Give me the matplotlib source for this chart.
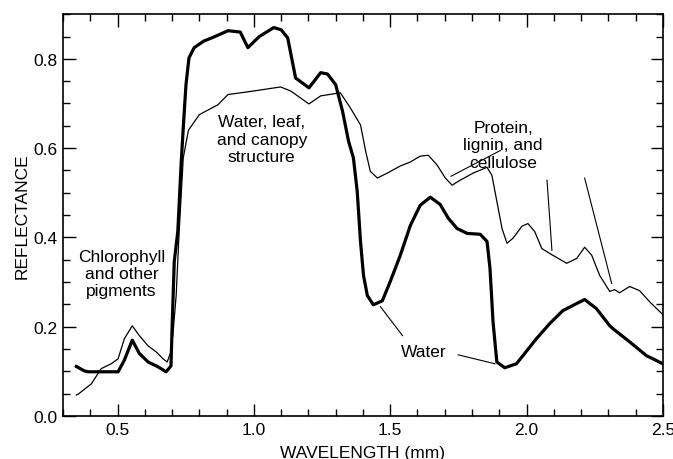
import matplotlib
matplotlib.use('Agg')
import matplotlib.pyplot as plt
from matplotlib.ticker import MultipleLocator

plt.rcParams['font.family'] = ['Liberation Sans', 'DejaVu Sans']

# thick curve
wl_thick = [0.349, 0.378, 0.393, 0.44, 0.502, 0.525, 0.554, 0.58, 0.612, 0.649, 0.678,
            0.696, 0.70, 0.708, 0.721, 0.733, 0.741, 0.751, 0.762, 0.781, 0.817, 0.85,
            0.905, 0.95, 0.978, 1.02, 1.073, 1.10, 1.124, 1.153, 1.202, 1.245, 1.27,
            1.30, 1.325, 1.347, 1.365, 1.379, 1.391, 1.402, 1.416, 1.438, 1.471, 1.50,
            1.537, 1.574, 1.61, 1.647, 1.683, 1.713, 1.745, 1.782, 1.83, 1.855, 1.866,
            1.877, 1.891, 1.92, 1.963, 2.036, 2.085, 2.133, 2.213, 2.257, 2.305, 2.316,
            2.378, 2.44, 2.5]
refl_thick = [0.111, 0.101, 0.099, 0.099, 0.099, 0.125, 0.170, 0.140, 0.121, 0.110, 0.099,
              0.112, 0.196, 0.346, 0.413, 0.562, 0.645, 0.742, 0.802, 0.825, 0.840, 0.848,
              0.863, 0.860, 0.825, 0.850, 0.870, 0.865, 0.847, 0.757, 0.735, 0.769, 0.766,
              0.742, 0.683, 0.616, 0.578, 0.503, 0.391, 0.315, 0.270, 0.249, 0.258, 0.301,
              0.360, 0.427, 0.472, 0.490, 0.474, 0.443, 0.420, 0.409, 0.407, 0.391, 0.330,
              0.211, 0.121, 0.108, 0.117, 0.173, 0.207, 0.236, 0.261, 0.240, 0.202, 0.196,
              0.166, 0.135, 0.117]

# thin curve
wl_thin = [0.349, 0.356, 0.404, 0.44, 0.477, 0.502, 0.525, 0.554, 0.58, 0.612, 0.641,
           0.667, 0.682, 0.696, 0.704, 0.715, 0.726, 0.741, 0.76, 0.80, 0.868, 0.905,
           1.0, 1.098, 1.135, 1.202, 1.245, 1.317, 1.354, 1.391, 1.41, 1.427, 1.453,
           1.489, 1.537, 1.574, 1.61, 1.64, 1.672, 1.702, 1.727, 1.756, 1.804, 1.855,
           1.873, 1.891, 1.91, 1.928, 1.95, 1.983, 2.005, 2.03, 2.056, 2.085, 2.147,
           2.184, 2.213, 2.239, 2.268, 2.305, 2.323, 2.341, 2.378, 2.414, 2.451, 2.5]
refl_thin = [0.047, 0.049, 0.072, 0.106, 0.117, 0.128, 0.173, 0.202, 0.180, 0.157, 0.144,
             0.128, 0.121, 0.144, 0.189, 0.270, 0.413, 0.578, 0.640, 0.675, 0.697, 0.720,
             0.728, 0.737, 0.728, 0.699, 0.717, 0.724, 0.690, 0.652, 0.593, 0.548, 0.533,
             0.544, 0.560, 0.569, 0.582, 0.584, 0.562, 0.533, 0.517, 0.528, 0.544, 0.557,
             0.539, 0.481, 0.420, 0.387, 0.398, 0.425, 0.431, 0.413, 0.375, 0.364, 0.342,
             0.353, 0.378, 0.360, 0.315, 0.279, 0.283, 0.276, 0.290, 0.281, 0.256, 0.227]

fig = plt.figure(figsize=(6.73, 4.60), dpi=100)
ax = fig.add_axes([0.0936, 0.0935, 0.8914, 0.8735])

ax.plot(wl_thin, refl_thin, color='black', lw=0.9, solid_joinstyle='round')
ax.plot(wl_thick, refl_thick, color='black', lw=2.3, solid_joinstyle='round')

ax.set_xlim(0.3, 2.5)
ax.set_ylim(0.0, 0.9)
ax.xaxis.set_major_locator(MultipleLocator(0.5))
ax.xaxis.set_minor_locator(MultipleLocator(0.1))
ax.yaxis.set_major_locator(MultipleLocator(0.2))
ax.yaxis.set_minor_locator(MultipleLocator(0.05))
ax.xaxis.set_major_formatter(lambda v, p: '%.1f' % v)
ax.yaxis.set_major_formatter(lambda v, p: '%.1f' % v)
ax.tick_params(which='both', direction='in', top=True, right=True, width=1,
               labelsize=12.5, pad=4)
ax.tick_params(which='major', length=9)
ax.tick_params(which='minor', length=5)
for s in ax.spines.values():
    s.set_linewidth(1.2)

ax.set_xlabel('WAVELENGTH (mm)', fontsize=12.5)
ax.xaxis.set_label_coords(0.5, -0.072)
ax.set_ylabel('REFLECTANCE', fontsize=12.5)
ax.yaxis.set_label_coords(-0.055, 0.5)

txt = dict(fontsize=12.5, ha='center', va='center', linespacing=1.2)
ax.text(0.514, 0.319, 'Chlorophyll\nand other\npigments', **txt)
ax.text(1.029, 0.62, 'Water, leaf,\nand canopy\nstructure', **txt)
ax.text(1.914, 0.607, 'Protein,\nlignin, and\ncellulose', **txt)
ax.text(1.622, 0.144, 'Water', **txt)

# leader lines
leaders = [((1.905, 0.595), (1.723, 0.537)),
           ((2.075, 0.528), (2.093, 0.371)),
           ((2.213, 0.533), (2.312, 0.297)),
           ((1.464, 0.245), (1.545, 0.18)),
           ((1.749, 0.137), (1.884, 0.117))]
for (x0, y0), (x1, y1) in leaders:
    ax.plot([x0, x1], [y0, y1], color='black', lw=0.8)

fig.savefig('out.png', dpi=100)
